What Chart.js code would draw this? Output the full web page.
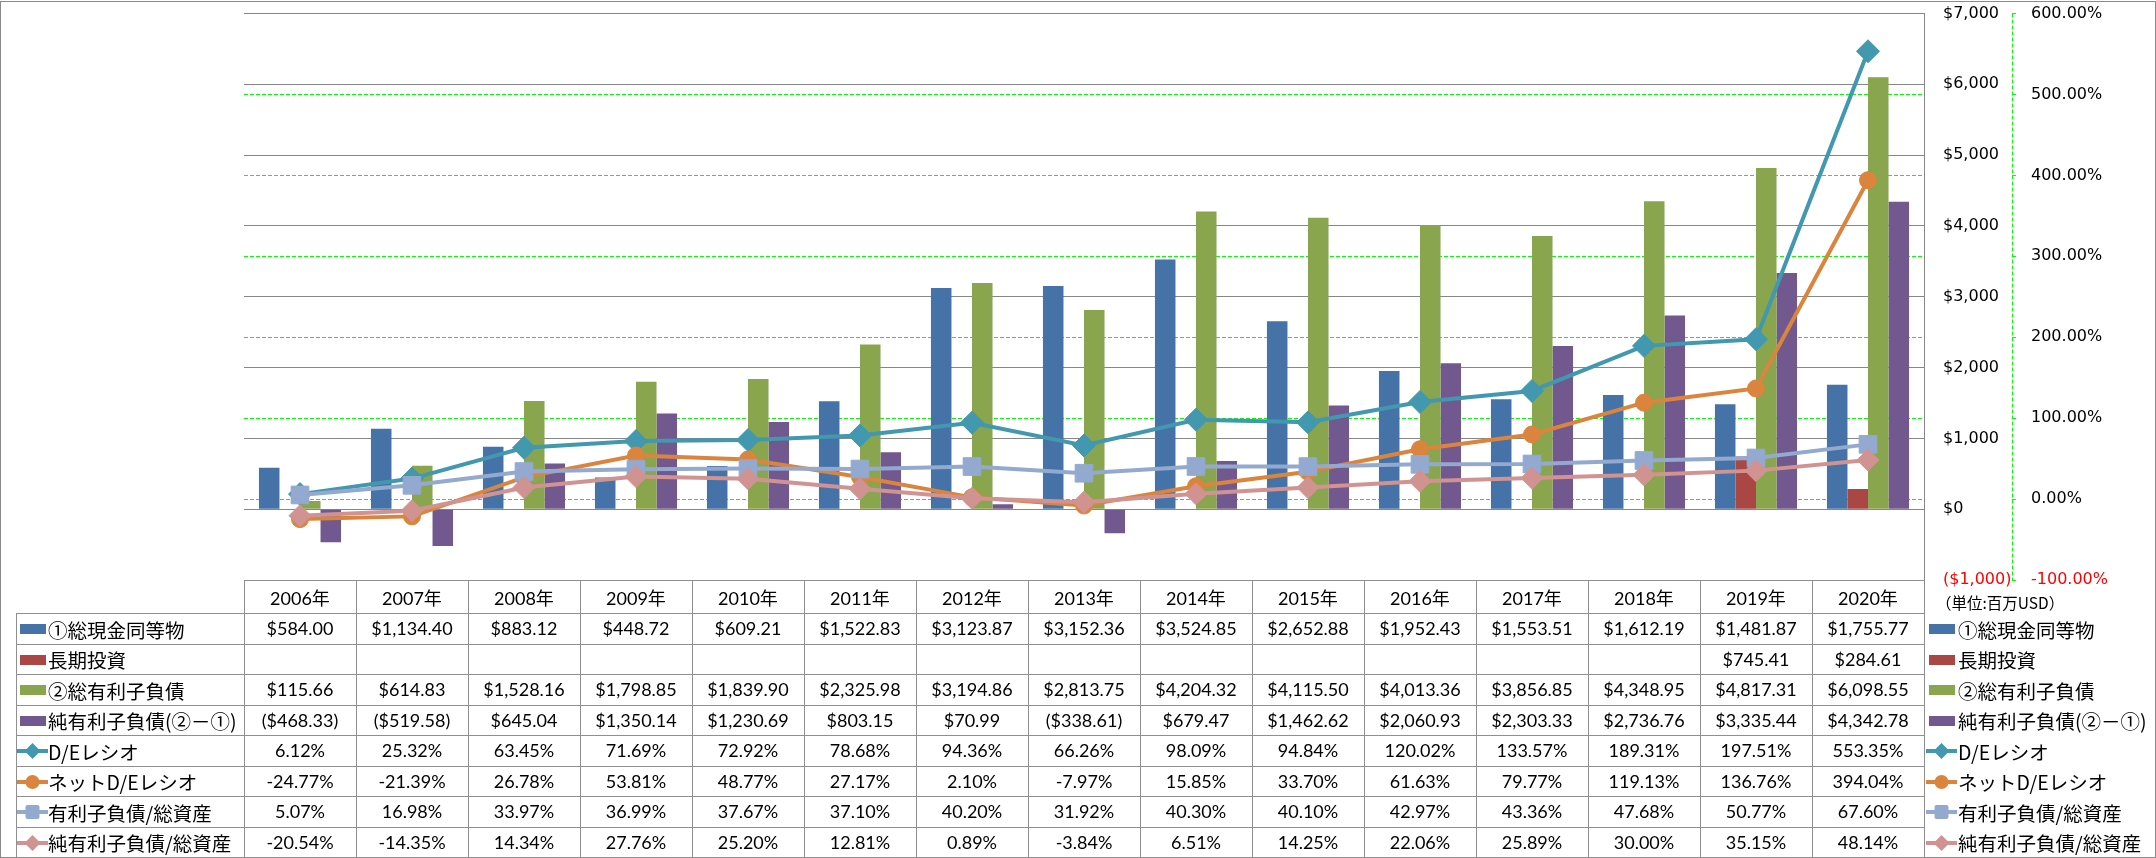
<!DOCTYPE html>
<html><head><meta charset="utf-8">
<script src="https://cdn.jsdelivr.net/npm/chart.js@4/dist/chart.umd.min.js"></script>
<style>
html,body{margin:0;padding:0;background:#fff;}
#wrap{position:relative;width:2156px;height:858px;overflow:hidden;background:#fff;}
#c{position:absolute;left:0;top:0;}
.cell{position:absolute;display:flex;align-items:center;justify-content:center;font-family:Lato,"Noto Sans CJK JP",sans-serif;font-size:18px;color:#000;white-space:nowrap;}
.lg{position:absolute;display:flex;align-items:center;font-family:"Noto Sans CJK JP",sans-serif;font-size:19.5px;color:#000;white-space:nowrap;}
.ln{position:absolute;background:#8f8f8f;}
.key{position:absolute;}
#frame{position:absolute;left:0;top:1px;width:2154px;height:855px;border:1px solid #8a8a8a;pointer-events:none;}
</style></head><body>
<div id="wrap"><canvas id="c" width="2156" height="858"></canvas><div id="frame"></div></div>
<script>
// ---- data ----
const years = ['2006年','2007年','2008年','2009年','2010年','2011年','2012年','2013年','2014年','2015年','2016年','2017年','2018年','2019年','2020年'];
const cash = [584.00,1134.40,883.12,448.72,609.21,1522.83,3123.87,3152.36,3524.85,2652.88,1952.43,1553.51,1612.19,1481.87,1755.77];
const longInv = [null,null,null,null,null,null,null,null,null,null,null,null,null,745.41,284.61];
const totalDebt = [115.66,614.83,1528.16,1798.85,1839.90,2325.98,3194.86,2813.75,4204.32,4115.50,4013.36,3856.85,4348.95,4817.31,6098.55];
const netDebt = [-468.33,-519.58,645.04,1350.14,1230.69,803.15,70.99,-338.61,679.47,1462.62,2060.93,2303.33,2736.76,3335.44,4342.78];
const deRatio = [6.12,25.32,63.45,71.69,72.92,78.68,94.36,66.26,98.09,94.84,120.02,133.57,189.31,197.51,553.35];
const netDeRatio = [-24.77,-21.39,26.78,53.81,48.77,27.17,2.10,-7.97,15.85,33.70,61.63,79.77,119.13,136.76,394.04];
const debtToAssets = [5.07,16.98,33.97,36.99,37.67,37.10,40.20,31.92,40.30,40.10,42.97,43.36,47.68,50.77,67.60];
const netDebtToAssets = [-20.54,-14.35,14.34,27.76,25.20,12.81,0.89,-3.84,6.51,14.25,22.06,25.89,30.00,35.15,48.14];
const usdTicks = [-1000,0,1000,2000,3000,4000,5000,6000,7000];
const pctTicks = [-100,0,100,200,300,400,500,600];
const seriesNames = ['①総現金同等物','長期投資','②総有利子負債','純有利子負債(②－①)','D/Eレシオ','ネットD/Eレシオ','有利子負債/総資産','純有利子負債/総資産'];
const unitLabel = '（単位:百万USD）';

// ---- styles ----
const colors = ['#4572A7','#AA4643','#89A54E','#71588F','#4198AF','#DB843D','#93A9CF','#D19392'];
const markers = [null,null,null,null,'rectRot','circle','rect','rectRot'];
const radii = [0,0,0,0,11.5,8.5,12.5,11];
const seriesData = [cash,longInv,totalDebt,netDebt,deRatio,netDeRatio,debtToAssets,netDebtToAssets];
const lineOrder = {4:4,5:3,6:2,7:1};

const datasets = seriesData.map((d,i)=>{
  if (i<4) return {type:'bar',label:seriesNames[i],data:d,yAxisID:'y',backgroundColor:colors[i],borderWidth:0,order:5+i,categoryPercentage:0.733,barPercentage:1.0};
  return {type:'line',label:seriesNames[i],data:d,yAxisID:'y2',borderColor:colors[i],backgroundColor:colors[i],borderWidth:4,pointStyle:markers[i],pointRadius:radii[i],pointBorderWidth:1,pointBorderColor:colors[i],pointBackgroundColor:colors[i],tension:0,order:lineOrder[i],clip:false};
});

const fmtUSD = v => {
  if (v===null||v===undefined) return '';
  const s = Math.abs(v).toLocaleString('en-US',{minimumFractionDigits:2,maximumFractionDigits:2});
  return v<0 ? '($'+s+')' : '$'+s;
};
const fmtPct = v => (v===null||v===undefined) ? '' : v.toFixed(2)+'%';

const axisLine = {
  id:'axisLine',
  afterDraw(chart){
    const s = chart.scales.y2, ca = chart.chartArea, ctx = chart.ctx;
    const x = Math.round(s.left)+0.5;
    ctx.save();
    ctx.strokeStyle = '#00ff00'; ctx.lineWidth = 1; ctx.setLineDash([4,2]);
    ctx.beginPath(); ctx.moveTo(x, ca.top); ctx.lineTo(x, ca.bottom); ctx.stroke();
    ctx.restore();
  }
};
const zeroPad = s => { s.paddingTop = 0; s.paddingBottom = 0; };

const chart = new Chart(document.getElementById('c'), {
  type:'bar',
  data:{labels:years, datasets},
  options:{
    responsive:false, animation:false, devicePixelRatio:1,
    layout:{padding:{left:244,top:13,right:0,bottom:278}},
    plugins:{legend:{display:false},tooltip:{enabled:false}},
    scales:{
      x:{display:false, offset:true},
      y:{position:'right', min:-1000, max:7000,
         afterBuildTicks: s => { s.ticks = usdTicks.map(v=>({value:v})); },
         ticks:{padding:19, font:{family:'DejaVu Sans', size:16}, color: c => c.tick.value<0 ? '#ff0000' : '#000000',
                callback: v => v<0 ? '($'+Math.abs(v).toLocaleString('en-US')+')' : '$'+v.toLocaleString('en-US')},
         grid:{color:'#878787', lineWidth:1, drawTicks:false},
         border:{display:true, color:'#878787', width:1},
         afterFit: s => { s.width = 88; zeroPad(s); }},
      y2:{position:'right', min:-100, max:600,
         afterBuildTicks: s => { s.ticks = pctTicks.map(v=>({value:v})); },
         ticks:{padding:15, font:{family:'DejaVu Sans', size:16}, color: c => c.tick.value<0 ? '#ff0000' : '#000000',
                callback: v => v.toFixed(2)+'%'},
         grid:{color: c => (c.tick && (c.tick.value===600 || c.tick.value===-100)) ? 'rgba(0,0,0,0)' : '#00ff00', lineWidth:1, drawTicks:true, tickLength:4, tickColor:'#00ff00', tickWidth:1},
         border:{display:false, dash:[4,2]},
         afterFit: s => { s.width = 144; zeroPad(s); }}
    }
  },
  plugins:[axisLine]
});

// ---- data table & legends (HTML text) ----
const wrap = document.getElementById('wrap');
const ca = chart.chartArea;
const L = ca.left, R = ca.right, colW = (R-L)/years.length;
const T = ca.bottom, headH = 33, rowH = 30.5;
const legL = 16;
function line(x,y,w,h){const d=document.createElement('div');d.className='ln';d.style.left=x+'px';d.style.top=y+'px';d.style.width=w+'px';d.style.height=h+'px';wrap.appendChild(d);}
function cell(x,y,w,h,txt){const d=document.createElement('div');d.className='cell';d.style.left=x+'px';d.style.top=y+'px';d.style.width=w+'px';d.style.height=h+'px';d.textContent=txt;wrap.appendChild(d);}
function legText(x,yc,txt,fs){const d=document.createElement('div');d.className='lg';d.style.left=x+'px';d.style.top=(yc-15)+'px';d.style.height='30px';if(fs)d.style.fontSize=fs+'px';d.textContent=txt;wrap.appendChild(d);}
function key(x,yc,i){
  const ns='http://www.w3.org/2000/svg';
  const svg=document.createElementNS(ns,'svg');
  svg.setAttribute('width','32');svg.setAttribute('height','20');
  svg.setAttribute('class','key');
  svg.style.left=x+'px';svg.style.top=(yc-10)+'px';
  const c=colors[i];
  let inner='';
  if(!markers[i]){
    inner='<rect x="3" y="5" width="26" height="10" fill="'+c+'"/>';
  } else {
    inner='<line x1="0" y1="10" x2="31" y2="10" stroke="'+c+'" stroke-width="4"/>';
    if(markers[i]==='rectRot') inner+='<polygon points="15.5,2 23.5,10 15.5,18 7.5,10" fill="'+c+'"/>';
    else if(markers[i]==='circle') inner+='<circle cx="15.5" cy="10" r="7" fill="'+c+'"/>';
    else inner+='<rect x="8.5" y="3" width="14" height="14" rx="2" fill="'+c+'"/>';
  }
  svg.innerHTML=inner;
  wrap.appendChild(svg);
}
line(L, Math.round(T), R-L+1, 1);
for(let k=0;k<=seriesData.length;k++){ line(legL, Math.round(T+headH+k*rowH), R-legL+1, 1); }
const yEnd = Math.round(T+headH+seriesData.length*rowH);
line(legL, Math.round(T+headH), 1, yEnd-Math.round(T+headH));
for(let i=0;i<=years.length;i++){ line(Math.round(L+i*colW), Math.round(T), 1, yEnd-Math.round(T)); }
years.forEach((y,i)=>cell(L+i*colW, T, colW, headH, y));
seriesData.forEach((d,r)=>{
  const y0 = T+headH+r*rowH;
  d.forEach((v,i)=>cell(L+i*colW, y0, colW, rowH, r<4?fmtUSD(v):fmtPct(v)));
  const yc = y0+rowH/2+1;
  key(legL+1, yc, r);
  legText(legL+32, yc, seriesNames[r]);
  key(R+2, yc, r);
  legText(R+34, yc, seriesNames[r]);
});
legText(R+12, T+22, unitLabel, 15.5);
</script>
</body></html>
